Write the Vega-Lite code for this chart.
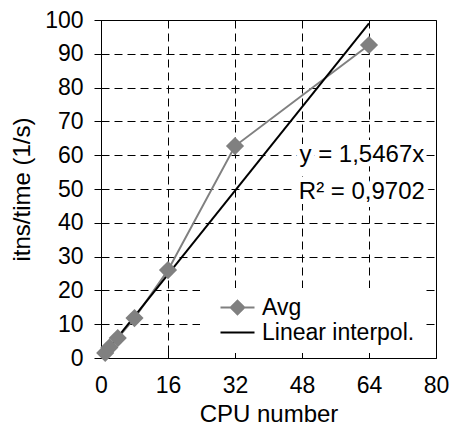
{
  "$schema": "https://vega.github.io/schema/vega-lite/v6.json",
  "width": 335,
  "height": 338,
  "autosize": "none",
  "padding": {"left": 101, "top": 20, "right": 18, "bottom": 76},
  "background": "white",
  "config": {
    "font": "Liberation Sans",
    "view": {"stroke": "#000", "strokeWidth": 1},
    "axis": {
      "labelFontSize": 23, "titleFontSize": 24, "labelColor": "#000", "titleColor": "#000",
      "titleFontWeight": "normal", "domainColor": "#000", "tickColor": "#000",
      "gridColor": "#000", "gridDash": [8, 5], "gridWidth": 1, "gridOpacity": 1,
      "labelOverlap": false, "labelFlush": false
    }
  },
  "datasets": {
    "avg": [
      {"cpu": 1, "val": 1.5, "series": "Avg"},
      {"cpu": 2, "val": 3.1, "series": "Avg"},
      {"cpu": 4, "val": 5.9, "series": "Avg"},
      {"cpu": 8, "val": 11.8, "series": "Avg"},
      {"cpu": 16, "val": 26.0, "series": "Avg"},
      {"cpu": 32, "val": 62.7, "series": "Avg"},
      {"cpu": 64, "val": 92.6, "series": "Avg"}
    ],
    "trend": [
      {"cpu": 1, "val": 1.5467, "series": "Linear interpol."},
      {"cpu": 64, "val": 98.99, "series": "Linear interpol."}
    ],
    "notes": [
      {"cpu": 62.3, "val": 60, "label": "y = 1,5467x"},
      {"cpu": 62.3, "val": 49, "label": "R² = 0,9702"}
    ]
  },
  "encoding": {
    "x": {"field": "cpu", "type": "quantitative", "title": "CPU number",
      "scale": {"domain": [0, 80], "nice": false, "zero": false},
      "axis": {"values": [0, 16, 32, 48, 64, 80], "tickSize": -7, "labelPadding": 23, "titlePadding": 5, "grid": true}},
    "y": {"field": "val", "type": "quantitative", "title": "itns/time (1/s)",
      "scale": {"domain": [0, 100], "nice": false},
      "axis": {"values": [0, 10, 20, 30, 40, 50, 60, 70, 80, 90, 100], "tickSize": 7, "labelPadding": 11, "titlePadding": 10, "grid": true}}
  },
  "layer": [
    {
      "data": {"name": "avg"},
      "mark": {"type": "line", "strokeWidth": 2},
      "encoding": {
        "color": {"field": "series", "type": "nominal",
          "scale": {"domain": ["Avg", "Linear interpol."], "range": ["#808080", "#000000"]},
          "legend": {
            "title": null, "orient": "none", "legendX": 99, "legendY": 268,
            "fillColor": "white", "padding": 8, "labelFontSize": 23, "labelColor": "#000",
            "symbolSize": 400, "rowPadding": 1, "labelOffset": 31,
            "encode": {"symbols": {"update": {
              "shape": [{"test": "datum.label === 'Avg'", "value": "M0.1,0L3.5,0M1.8,-0.68L2.48,0L1.8,0.68L1.12,0Z"}, {"value": "M0.1,0L3.5,0"}],
              "fill": [{"test": "datum.label === 'Avg'", "value": "#808080"}, {"value": "transparent"}],
              "strokeWidth": {"value": 2},
              "opacity": {"value": 1}
            }}}
          }}
      }
    },
    {
      "data": {"name": "trend"},
      "mark": {"type": "line", "strokeWidth": 2},
      "encoding": {
        "color": {"field": "series", "type": "nominal"}
      }
    },
    {
      "data": {"name": "avg"},
      "mark": {"type": "point", "shape": "diamond", "filled": true, "size": 330, "opacity": 1},
      "encoding": {
        "color": {"field": "series", "type": "nominal"}
      }
    },
    {
      "data": {"name": "notes"},
      "mark": {"type": "text", "fontSize": 24, "stroke": "white", "strokeWidth": 10, "fill": "white", "align": "center", "baseline": "middle"},
      "encoding": {
        "text": {"field": "label"}
      }
    },
    {
      "data": {"name": "notes"},
      "mark": {"type": "text", "fontSize": 24, "fill": "#000", "align": "center", "baseline": "middle"},
      "encoding": {
        "text": {"field": "label"}
      }
    }
  ]
}
